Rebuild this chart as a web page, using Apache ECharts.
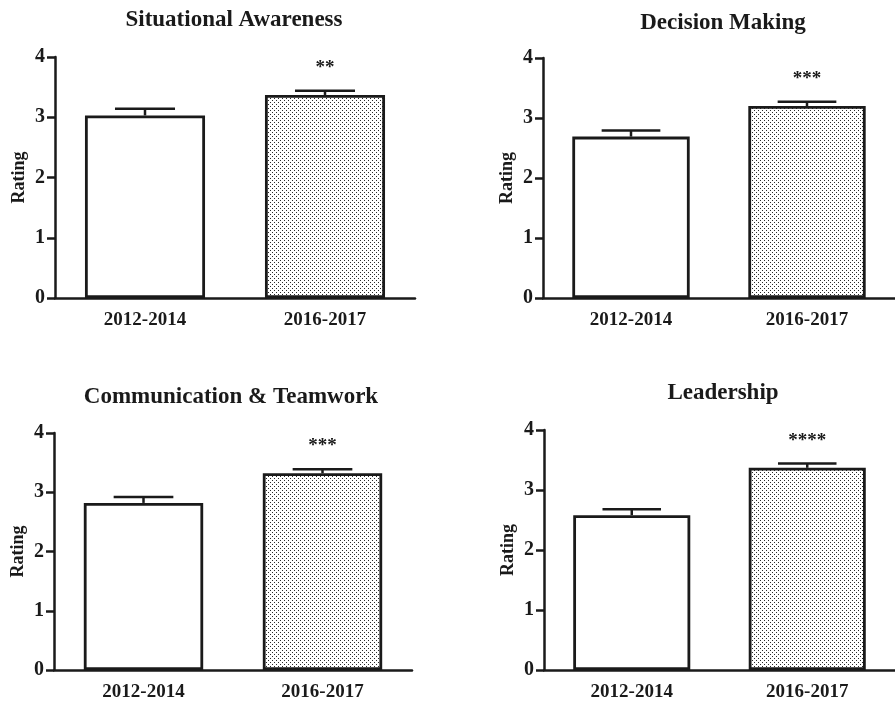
<!DOCTYPE html>
<html>
<head>
<meta charset="utf-8">
<script src="https://cdn.jsdelivr.net/npm/echarts@6/dist/echarts.min.js"></script>
<style>
html,body{margin:0;padding:0;background:#fff;}
#chart{width:895px;height:702px;}
</style>
</head>
<body>
<div id="chart"></div>
<script>
// ---- data ----
const panelTitles = ['Situational Awareness', 'Decision Making', 'Communication & Teamwork', 'Leadership'];
const categories = ['2012-2014', '2016-2017'];
const mean2012 = [3.03, 2.69, 2.82, 2.58];
const mean2016 = [3.37, 3.20, 3.32, 3.37];
const sem2012 = [0.11, 0.10, 0.10, 0.10];
const sem2016 = [0.07, 0.07, 0.07, 0.07];
const significance = ['**', '***', '***', '****'];
const yAxisName = 'Rating';
const yMin = 0, yMax = 4, yInterval = 1;

// ---- layout (pixels) ----
const grids = [
  {left: 55, top: 57, width: 360, height: 241},
  {left: 543, top: 58, width: 358, height: 240},
  {left: 54, top: 433, width: 358, height: 239},
  {left: 544, top: 430, width: 364, height: 241}
];
const titlePos = [
  {x: 234, y: 9}, {x: 723, y: 12}, {x: 231, y: 386}, {x: 723, y: 382}
];

const FONT = "'Liberation Serif', 'Times New Roman', serif";
const INK = '#1a1a1a';

// dotted pattern
const tile = document.createElement('canvas');
tile.width = 4; tile.height = 4;
const tctx = tile.getContext('2d');
tctx.fillStyle = '#ffffff';
tctx.fillRect(0, 0, 4, 4);
tctx.fillStyle = '#2a2a2a';
tctx.fillRect(0, 0, 1, 1);
tctx.fillRect(2, 2, 1, 1);
const dotted = {image: tile, repeat: 'repeat'};

const chart = echarts.init(document.getElementById('chart'), null, {renderer: 'canvas'});

const option = {
  backgroundColor: '#ffffff',
  animation: false,
  title: panelTitles.map((t, i) => ({
    text: t,
    left: titlePos[i].x,
    top: titlePos[i].y,
    textAlign: 'center',
    padding: 0,
    textStyle: {fontFamily: FONT, fontWeight: 'bold', fontSize: 23, color: INK}
  })),
  grid: grids.map(g => Object.assign({containLabel: false}, g)),
  xAxis: grids.map((g, i) => ({
    type: 'category',
    gridIndex: i,
    data: categories,
    axisLine: {lineStyle: {color: INK, width: 2.5}},
    axisTick: {alignWithLabel: true, length: 7, lineStyle: {color: INK, width: 2.5}},
    axisLabel: {fontFamily: FONT, fontWeight: 'bold', fontSize: 19, color: INK, margin: 13},
    splitLine: {show: false}
  })),
  yAxis: grids.map((g, i) => ({
    type: 'value',
    gridIndex: i,
    min: yMin, max: yMax, interval: yInterval,
    name: yAxisName,
    nameLocation: 'middle',
    nameRotate: 90,
    nameGap: 27,
    nameTextStyle: {fontFamily: FONT, fontWeight: 'bold', fontSize: 18, color: INK},
    axisLine: {show: true, lineStyle: {color: INK, width: 2.5}},
    axisTick: {show: true, length: 8, lineStyle: {color: INK, width: 2.5}},
    axisLabel: {fontFamily: FONT, fontWeight: 'bold', fontSize: 20, color: INK, margin: 10},
    splitLine: {show: false}
  })),
  series: []
};

panelTitles.forEach((t, i) => {
  option.series.push({
    type: 'bar',
    xAxisIndex: i,
    yAxisIndex: i,
    barWidth: '66.7%',
    z: 2,
    data: [
      {value: mean2012[i], itemStyle: {color: '#ffffff', borderColor: INK, borderWidth: 2.8}},
      {value: mean2016[i], itemStyle: {color: dotted, borderColor: INK, borderWidth: 2.8}}
    ]
  });
  option.series.push({
    type: 'custom',
    xAxisIndex: i,
    yAxisIndex: i,
    z: 3,
    data: [
      [0, mean2012[i], sem2012[i], ''],
      [1, mean2016[i], sem2016[i], significance[i]]
    ],
    renderItem: function (params, api) {
      const x = api.value(0), m = api.value(1), e = api.value(2);
      const label = significance[i];
      const base = api.coord([x, m]);
      const top = api.coord([x, m + e]);
      const bw = api.size([1, 0])[0] * 0.667;
      const half = bw / 4;
      const children = [
        {type: 'line', shape: {x1: base[0], y1: base[1], x2: top[0], y2: top[1]},
         style: {stroke: INK, lineWidth: 2.5}},
        {type: 'line', shape: {x1: top[0] - half, y1: top[1], x2: top[0] + half, y2: top[1]},
         style: {stroke: INK, lineWidth: 2.5}}
      ];
      if (params.dataIndex === 1) {
        children.push({
          type: 'text',
          style: {
            text: label, x: top[0], y: top[1] - 23,
            align: 'center', verticalAlign: 'middle',
            textAlign: 'center', textVerticalAlign: 'middle',
            font: 'bold 19px ' + FONT, fill: INK
          }
        });
      }
      return {type: 'group', children: children};
    }
  });
});

chart.setOption(option);
</script>
</body>
</html>
